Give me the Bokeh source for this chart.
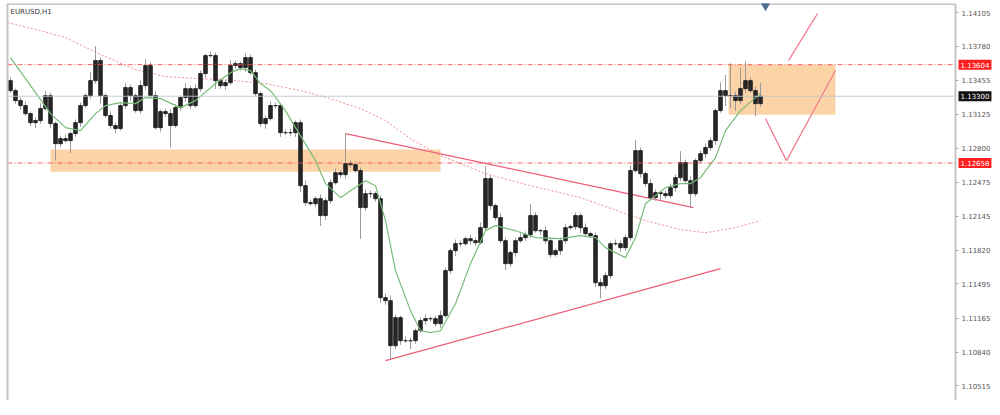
from bokeh.plotting import figure
from bokeh.models import (ColumnDataSource, FixedTicker, PrintfTickFormatter, Range1d,
                          LinearAxis, Label)
from bokeh.embed import file_html
from bokeh.resources import INLINE

# ---------------- data ----------------
symbol_label = "EURUSD,H1"
first_open = 1.13450
closes = [
    1.13354, 1.13258, 1.13210, 1.13133, 1.13046, 1.13066, 1.13181, 1.13306, 1.13037, 1.12844,
    1.12892, 1.12873, 1.12941, 1.13046, 1.13210, 1.13306, 1.13450, 1.13643, 1.13306, 1.13114,
    1.13018, 1.12989, 1.13210, 1.13383, 1.13306, 1.13162, 1.13402, 1.13595, 1.13306, 1.12998,
    1.13152, 1.13133, 1.13018, 1.13191, 1.13287, 1.13373, 1.13210, 1.13373, 1.13518, 1.13691,
    1.13691, 1.13450, 1.13402, 1.13431, 1.13595, 1.13614, 1.13576, 1.13672, 1.13527, 1.13325,
    1.13037, 1.13085, 1.13210, 1.13210, 1.12950, 1.12950, 1.12950, 1.13046, 1.12440, 1.12277,
    1.12267, 1.12315, 1.12152, 1.12296, 1.12469, 1.12565, 1.12546, 1.12652, 1.12642, 1.12585,
    1.12229, 1.12363, 1.12363, 1.12315, 1.11363, 1.11334, 1.10901, 1.11171, 1.10949, 1.10949,
    1.10949, 1.11045, 1.11142, 1.11161, 1.11161, 1.11113, 1.11190, 1.11623, 1.11815, 1.11882,
    1.11882, 1.11930, 1.11911, 1.11892, 1.12036, 1.12508, 1.12248, 1.12133, 1.11911, 1.11690,
    1.11796, 1.11911, 1.11940, 1.11969, 1.12152, 1.12007, 1.12007, 1.11911, 1.11777, 1.11815,
    1.11911, 1.12036, 1.12046, 1.12152, 1.12036, 1.11979, 1.11959, 1.11507, 1.11478, 1.11575,
    1.11882, 1.11882, 1.11844, 1.11940, 1.12585, 1.12777, 1.12556, 1.12460, 1.12325, 1.12373,
    1.12363, 1.12344, 1.12421, 1.12517, 1.12662, 1.12488, 1.12363, 1.12681, 1.12748, 1.12806,
    1.12873, 1.13162, 1.13354, 1.13306, 1.13306, 1.13258, 1.13373, 1.13450, 1.13354, 1.13229,
    1.13300,
]
hi_wick_pips = [
    3, 2, 3, 4, 2, 3, 5, 4, 3, 2,
    3, 4, 2, 3, 3, 2, 8, 14, 3, 2,
    4, 3, 2, 4, 3, 2, 5, 6, 3, 4,
    2, 3, 4, 3, 2, 5, 3, 4, 3, 2,
    4, 3, 2, 3, 5, 3, 2, 4, 3, 3,
    2, 3, 4, 3, 2, 3, 4, 2, 3, 5,
    3, 2, 4, 3, 3, 4, 2, 29, 3, 2,
    3, 4, 3, 2, 3, 4, 5, 3, 2, 4,
    3, 2, 3, 4, 2, 3, 5, 3, 2, 4,
    3, 2, 4, 3, 5, 12, 3, 2, 4, 3,
    2, 3, 4, 3, 11, 3, 2, 4, 3, 2,
    3, 4, 2, 3, 3, 4, 2, 3, 4, 3,
    2, 4, 3, 3, 5, 10, 3, 2, 4, 3,
    2, 3, 4, 3, 11, 3, 4, 2, 3, 4,
    3, 2, 8, 15, 31, 4, 20, 19, 3, 4,
    13,
]
lo_wick_pips = [
    2, 3, 4, 2, 3, 5, 3, 2, 4, 16,
    3, 2, 12, 3, 4, 2, 3, 3, 8, 2,
    3, 4, 2, 3, 5, 2, 3, 4, 3, 2,
    4, 3, 21, 2, 3, 4, 3, 2, 3, 4,
    2, 8, 3, 4, 2, 3, 3, 4, 2, 3,
    3, 5, 2, 3, 4, 2, 3, 4, 6, 3,
    2, 3, 10, 4, 3, 2, 3, 4, 3, 2,
    30, 3, 4, 3, 5, 4, 14, 3, 4, 2,
    8, 3, 2, 4, 3, 3, 4, 2, 3, 5,
    3, 2, 4, 3, 2, 3, 4, 3, 2, 6,
    3, 4, 2, 3, 3, 2, 4, 3, 3, 2,
    4, 3, 2, 3, 5, 3, 2, 4, 12, 3,
    3, 2, 4, 3, 3, 2, 4, 3, 2, 3,
    6, 3, 2, 4, 3, 2, 14, 3, 2, 4,
    3, 4, 2, 10, 12, 10, 3, 4, 2, 12,
    3,
]

# fast moving average (green), read at selected bars
fast_ma_bar = [0, 5, 8, 11, 14, 17, 19, 22, 25, 27, 30, 34, 37, 41, 44, 46, 48, 50, 52, 55,
               57, 61, 63, 66, 68, 71, 73, 75, 77, 80, 82, 84, 86, 89, 92, 95, 97, 101, 105,
               110, 114, 117, 119, 123, 125, 127, 131, 134, 136, 138, 141, 143, 146, 149, 150]
fast_ma_val = [1.13672, 1.13335, 1.13133, 1.12998, 1.12969, 1.13133, 1.13210, 1.13239, 1.13229,
               1.13287, 1.13277, 1.13191, 1.13258, 1.13422, 1.13527, 1.13566, 1.13547, 1.13422,
               1.13354, 1.13162, 1.12998, 1.12681, 1.12460, 1.12325, 1.12392, 1.12488, 1.12440,
               1.12104, 1.11623, 1.11238, 1.11045, 1.11026, 1.11045, 1.11305, 1.11690, 1.12007,
               1.12056, 1.12007, 1.11940, 1.11930, 1.11959, 1.11940, 1.11844, 1.11748, 1.11940,
               1.12267, 1.12421, 1.12460, 1.12460, 1.12517, 1.12710, 1.12969, 1.13162, 1.13287,
               1.13325]

# slow moving average (red dotted)
slow_ma_bar = [-0.6, 6, 11, 18, 25, 31, 38, 45, 51, 58, 64, 70, 75, 80, 86, 95, 104, 114,
               123, 127, 134, 139, 145, 150]
slow_ma_val = [1.14008, 1.13931, 1.13864, 1.13701, 1.13556, 1.13489, 1.13470, 1.13450,
               1.13422, 1.13354, 1.13277, 1.13181, 1.13066, 1.12892, 1.12729, 1.12556,
               1.12440, 1.12325, 1.12171, 1.12104, 1.12017, 1.11988, 1.12036, 1.12104]

# horizontal levels
resistance_level = 1.13604
support_level = 1.12658
bid_level = 1.13300

# supply / demand zones
zone_left = [8, 143.6]
zone_right = [86, 165]
zone_top = [1.12787, 1.13604]
zone_bottom = [1.12575, 1.13123]

# drawn trend lines
desc_line_bar = [67, 136.6]
desc_line_val = [1.12941, 1.12229]
asc_line_bar = [75, 142]
asc_line_val = [1.10757, 1.11642]
path_a_bar = [151, 155.2, 165]
path_a_val = [1.13085, 1.12681, 1.13547]
path_b_bar = [155.6, 161.4]
path_b_val = [1.13643, 1.14095]

marker_bar = [151]
marker_val = [1.14170]

tick_values = [1.14105, 1.13780, 1.13455, 1.13125, 1.12800, 1.12475,
               1.12145, 1.11820, 1.11495, 1.11165, 1.10840, 1.10515]

# ---------------- build ----------------
X_START, X_END = -0.6, 196.4      # chart time window (bars)
AXIS_AT = 189.0                   # bar position where the price scale sits
Y_LOW, Y_HIGH = 1.10374, 1.14192  # price window

PIP = 0.0001
n = len(closes)
bars = list(range(n))
opens = [first_open] + closes[:-1]
highs = [max(o, c) + h * PIP for o, c, h in zip(opens, closes, hi_wick_pips)]
lows = [min(o, c) - l * PIP for o, c, l in zip(opens, closes, lo_wick_pips)]
src = ColumnDataSource(dict(x=bars, top=[max(o, c) for o, c in zip(opens, closes)],
                            bottom=[min(o, c) for o, c in zip(opens, closes)],
                            high=highs, low=lows))

p = figure(width=992, height=400, x_range=Range1d(X_START, X_END),
           y_range=Range1d(Y_LOW, Y_HIGH),
           output_backend="svg", toolbar_location=None,
           y_axis_location="right", x_axis_location=None,
           min_border_left=7, min_border_top=3, min_border_bottom=0, min_border_right=0)
p.grid.visible = False
p.outline_line_color = None
p.background_fill_color = "white"
p.border_fill_color = "white"

# price axis drawn at a fixed bar position inside the frame
ya = p.right[0]
ya.fixed_location = AXIS_AT
ya.ticker = FixedTicker(ticks=tick_values)
ya.formatter = PrintfTickFormatter(format="%.5f")
ya.major_label_text_font_size = "7px"
ya.major_label_text_font = "DejaVu Sans"
ya.major_label_text_color = "#555555"
ya.axis_line_color = "#c4c4c4"
ya.axis_line_width = 2
ya.major_tick_out = 3
ya.major_tick_in = 0
ya.major_tick_line_color = "#aaaaaa"
ya.minor_tick_line_color = None
ya.major_label_standoff = 3

# left border via blank axis
la = LinearAxis(ticker=FixedTicker(ticks=[]), axis_line_color="#c4c4c4", axis_line_width=2,
                major_tick_line_color=None, minor_tick_line_color=None,
                major_label_text_font_size="0px", major_label_standoff=0)
p.add_layout(la, "left")

# top border
p.segment(x0=[X_START], x1=[AXIS_AT], y0=[Y_HIGH], y1=[Y_HIGH],
          line_color="#c4c4c4", line_width=3)

# zones
p.quad(left=zone_left, right=zone_right, top=zone_top, bottom=zone_bottom,
       fill_color="#fcd3a6", line_color=None)

# slow MA
p.line(slow_ma_bar, slow_ma_val, line_color="#f08c8c", line_width=1, line_dash="2 2")

# trend lines
p.line(desc_line_bar, desc_line_val, line_color="#ee5c78", line_width=1.2)
p.line(asc_line_bar, asc_line_val, line_color="#ee5c78", line_width=1.2)
p.line(path_a_bar, path_a_val, line_color="#f27a8e", line_width=1.2)
p.line(path_b_bar, path_b_val, line_color="#f27a8e", line_width=1.2)

# candles
p.segment(x0="x", x1="x", y0="low", y1="high", source=src, line_color="#9a9a9a", line_width=1)
p.vbar(x="x", top="top", bottom="bottom", width=0.7, source=src,
       fill_color="#262626", line_color="#262626", line_width=1)

# fast MA
p.line(fast_ma_bar, fast_ma_val, line_color="#79bb79", line_width=1.2)

# levels (stop at the price scale)
for lvl, col, dash in ((resistance_level, "#f04848", "5 2 1 2"),
                       (support_level, "#f04848", "5 2 1 2"),
                       (bid_level, "#bcc5d1", "solid")):
    p.segment(x0=[X_START], x1=[AXIS_AT], y0=[lvl], y1=[lvl], line_color=col,
              line_width=1, line_dash=dash, line_alpha=0.85)

p.scatter(marker_bar, marker_val, marker="inverted_triangle", size=8,
          fill_color="#4f6a8f", line_color="#4f6a8f")

# price tags
for lvl, bg in ((resistance_level, "#ff1e1e"), (support_level, "#ff1e1e"), (bid_level, "#111111")):
    p.add_layout(Label(x=AXIS_AT, y=lvl, x_offset=3, text="%.5f" % lvl, text_font_size="7px",
                       text_font="DejaVu Sans", text_color="white", text_baseline="middle",
                       background_fill_color=bg, padding=2))

p.add_layout(Label(x=X_START, y=Y_HIGH, x_offset=3, y_offset=-4, text=symbol_label,
                   text_font_size="7px", text_font="DejaVu Sans", text_color="#333333",
                   text_baseline="top"))

open("out.html", "w").write(file_html(p, INLINE))
